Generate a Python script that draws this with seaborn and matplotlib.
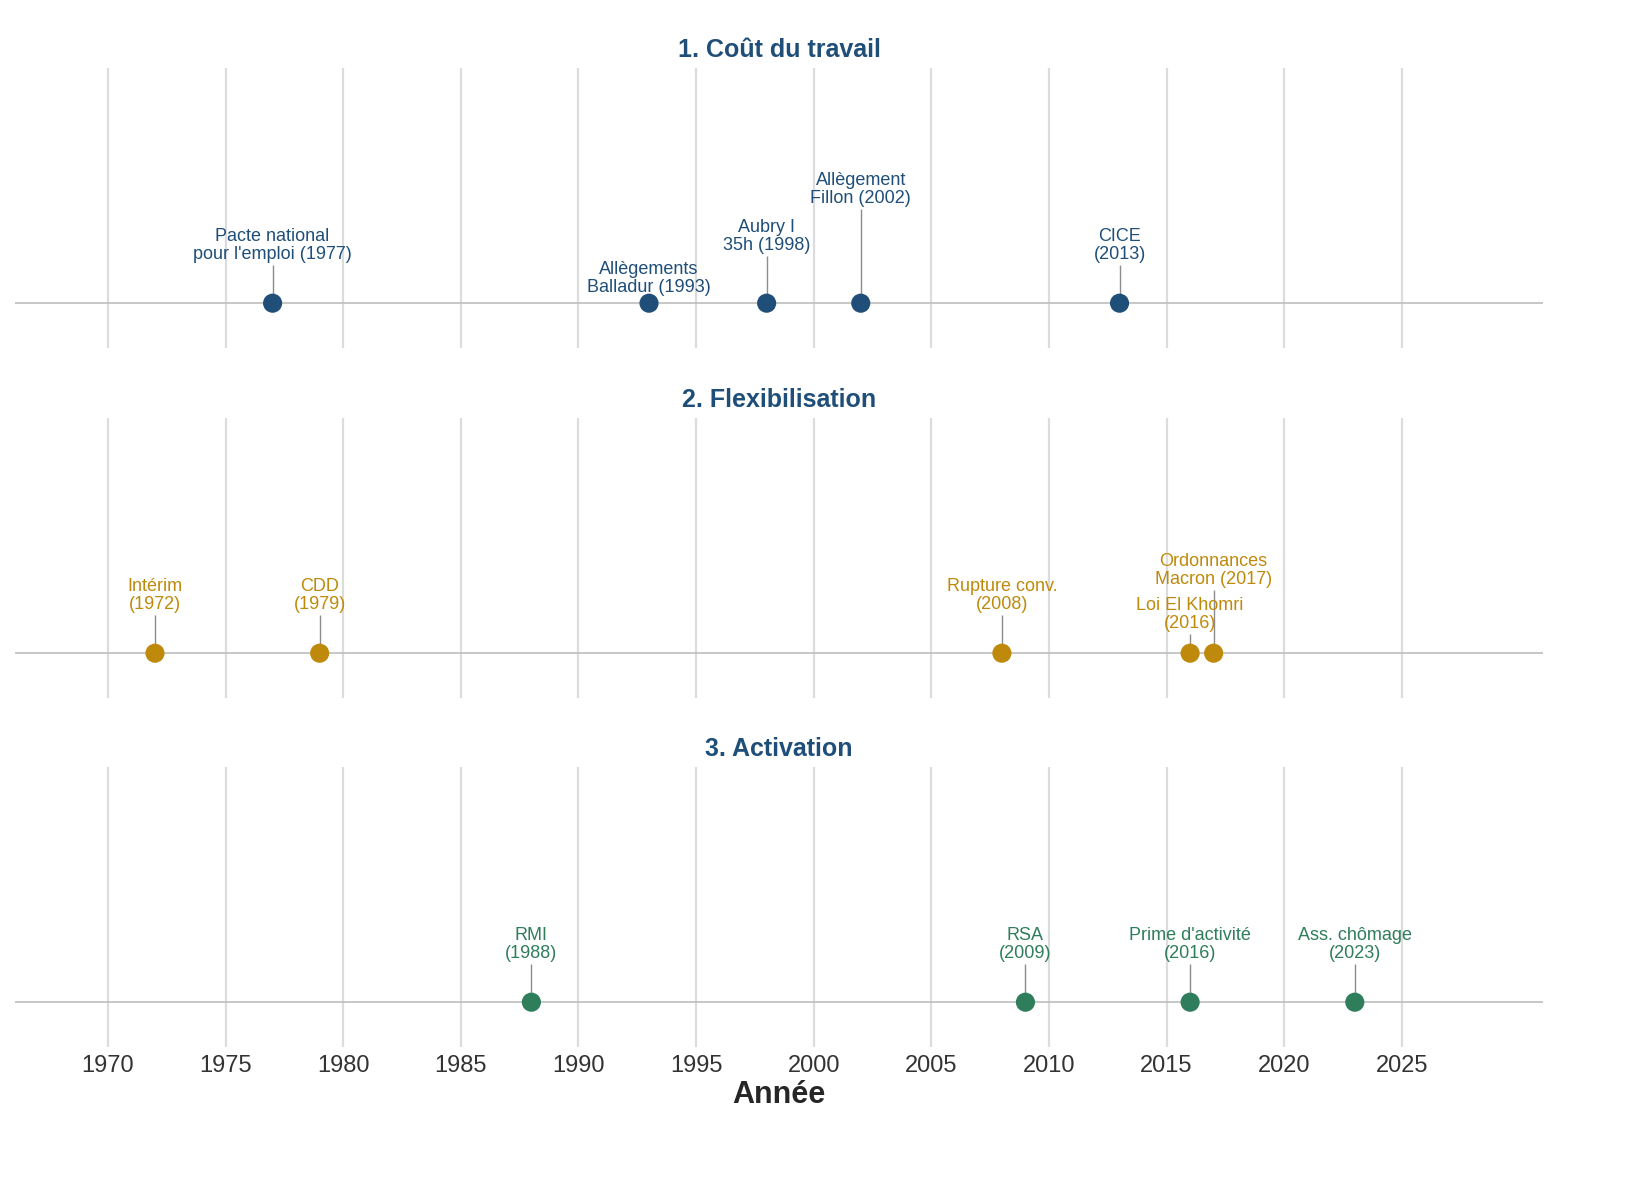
import numpy as np
import pandas as pd
import matplotlib
matplotlib.use("Agg")
import matplotlib.pyplot as plt
import seaborn as sns

# data
panel_titles = ["1. Coût du travail", "2. Flexibilisation", "3. Activation"]
panel_colors = ["#1f4e79", "#bf8a0b", "#2e7d5b"]

cout_years = [1977, 1993, 1998, 2002, 2013]
cout_labels = ["Pacte national\npour l'emploi (1977)", "Allègements\nBalladur (1993)",
               "Aubry I\n35h (1998)", "Allègement\nFillon (2002)", "CICE\n(2013)"]
cout_heights = [0.17, 0.02, 0.21, 0.42, 0.17]

flex_years = [1972, 1979, 2008, 2016, 2017]
flex_labels = ["Intérim\n(1972)", "CDD\n(1979)", "Rupture conv.\n(2008)",
               "Loi El Khomri\n(2016)", "Ordonnances\nMacron (2017)"]
flex_heights = [0.17, 0.17, 0.17, 0.085, 0.28]

act_years = [1988, 2009, 2016, 2023]
act_labels = ["RMI\n(1988)", "RSA\n(2009)", "Prime d'activité\n(2016)", "Ass. chômage\n(2023)"]
act_heights = [0.17, 0.17, 0.17, 0.17]

panels = [(cout_years, cout_labels, cout_heights),
          (flex_years, flex_labels, flex_heights),
          (act_years, act_labels, act_heights)]

sns.set_style("white")
plt.rcParams['font.family'] = ['Liberation Sans', 'DejaVu Sans']

W, H = 1632, 1190
fig = plt.figure(figsize=(W / 100, H / 100), dpi=100)
tops = [68, 418, 767]
ph = 280

for i, ((years, labels, heights), title, col) in enumerate(zip(panels, panel_titles, panel_colors)):
    ax = fig.add_axes([15 / W, 1 - (tops[i] + ph) / H, 1528 / W, ph / H])
    df = pd.DataFrame({"year": years, "label": labels, "h": heights})
    ax.set_xlim(1966.05, 2031)
    ax.set_ylim(-0.2, 1.05)
    for x in range(1970, 2030, 5):
        ax.axvline(x, color="#dcdcdc", lw=1.6, zorder=0)
    ax.axhline(0, color="#bdbdbd", lw=1.2, zorder=1)
    ax.vlines(df["year"], 0, df["h"], color="#8c8c8c", lw=1, zorder=2)
    sns.scatterplot(x=df["year"], y=np.zeros(len(df)), ax=ax, color=col, s=190,
                    edgecolor="none", zorder=3, legend=False)
    for _, r in df.iterrows():
        ax.text(r["year"], r["h"] + 0.01, r["label"], ha="center", va="bottom",
                color=col, fontsize=13, linespacing=1.1, zorder=4)
    ax.set_title(title, color="#1f4e79", fontsize=18, fontweight="bold", pad=8)
    ax.set_yticks([])
    ax.set_ylabel("")
    for s in ax.spines.values():
        s.set_visible(False)
    ax.set_xticks(range(1970, 2030, 5))
    if i < 2:
        ax.set_xticklabels([])
        ax.set_xlabel("")
        ax.tick_params(axis="x", length=0)
    else:
        ax.tick_params(axis="x", length=0, labelsize=17, labelcolor="#333333", pad=6)
        ax.set_xlabel("Année", fontsize=22, fontweight="bold", labelpad=2)

fig.savefig("out.png", dpi=100)
